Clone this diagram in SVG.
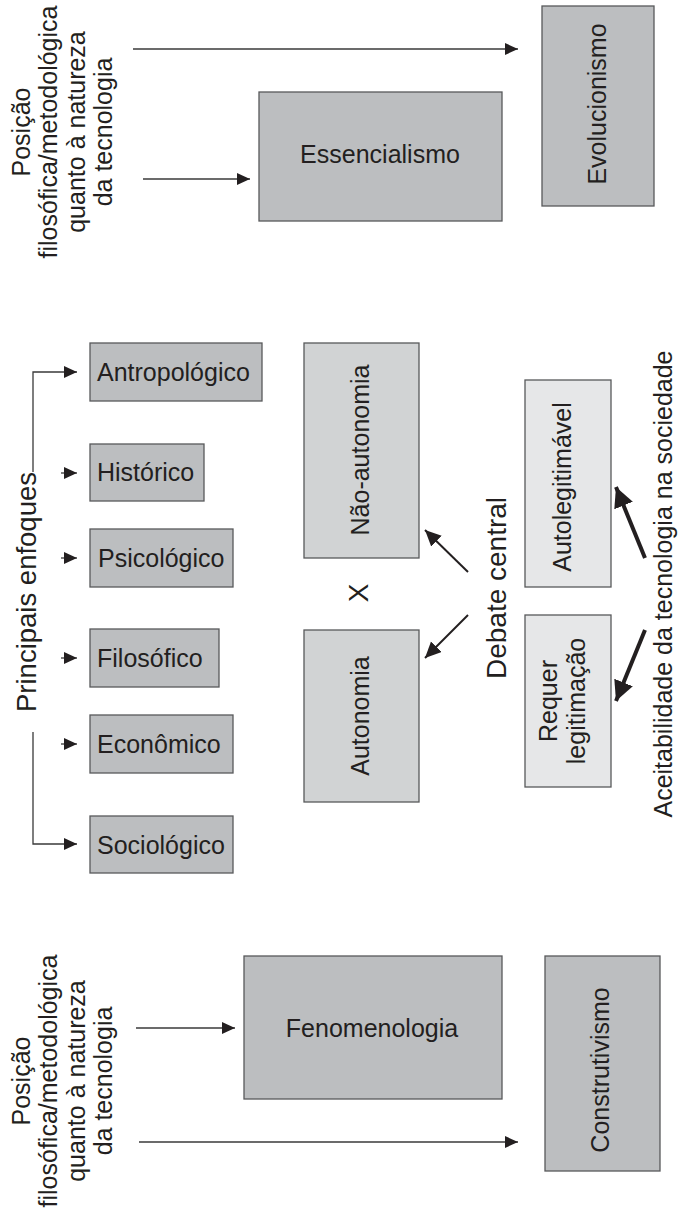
<svg xmlns="http://www.w3.org/2000/svg" width="678" height="1213" viewBox="0 0 678 1213">
<defs>
<style>
text{font-family:"Liberation Sans",Arial,sans-serif;fill:#231f20;font-size:25px}
.mid{text-anchor:middle}
.dark{fill:#bcbec0;stroke:#58595b;stroke-width:1.3}
.med{fill:#d1d3d4;stroke:#58595b;stroke-width:1.3}
.light{fill:#e6e7e8;stroke:#58595b;stroke-width:1.3}
.ln{fill:none;stroke:#3a3a3a;stroke-width:1.3}
.ln2{fill:none;stroke:#231f20;stroke-width:2}
.ln4{fill:none;stroke:#231f20;stroke-width:4}
</style>
<marker id="ah" markerUnits="userSpaceOnUse" markerWidth="14" markerHeight="14" refX="13" refY="6" orient="auto"><path d="M0,0 L13,6 L0,12 z" fill="#231f20"/></marker>
<marker id="ah2" markerUnits="userSpaceOnUse" markerWidth="18" markerHeight="18" refX="16" refY="7.5" orient="auto"><path d="M0,0 L16,7.5 L0,15 z" fill="#231f20"/></marker>
<marker id="ah4" markerUnits="userSpaceOnUse" markerWidth="24" markerHeight="24" refX="20" refY="10" orient="auto"><path d="M0,0 L20,10 L0,20 z" fill="#231f20"/></marker>
</defs>

<g id="connectors">
<line class="ln" x1="133" y1="49" x2="518" y2="49" marker-end="url(#ah)"/>
<line class="ln" x1="143" y1="179" x2="250" y2="179" marker-end="url(#ah)"/>
<line class="ln" x1="136" y1="1028" x2="235" y2="1028" marker-end="url(#ah)"/>
<line class="ln" x1="139" y1="1142" x2="518" y2="1142" marker-end="url(#ah)"/>
<path class="ln" d="M33,472 V372 H77" marker-end="url(#ah)"/>
<path class="ln" d="M33,732 V844 H77" marker-end="url(#ah)"/>
<line class="ln" x1="61" y1="473" x2="77" y2="473" marker-end="url(#ah)"/>
<line class="ln" x1="61" y1="558" x2="77" y2="558" marker-end="url(#ah)"/>
<line class="ln" x1="61" y1="658" x2="77" y2="658" marker-end="url(#ah)"/>
<line class="ln" x1="61" y1="744" x2="77" y2="744" marker-end="url(#ah)"/>
<line class="ln2" x1="468" y1="572" x2="425" y2="530" marker-end="url(#ah2)"/>
<line class="ln2" x1="468" y1="615" x2="425" y2="658" marker-end="url(#ah2)"/>
<line class="ln4" x1="645" y1="558" x2="616" y2="487" marker-end="url(#ah4)"/>
<line class="ln4" x1="645" y1="630" x2="616" y2="701" marker-end="url(#ah4)"/>
</g>

<g id="label-posicao-top">
<text class="mid" transform="translate(30,132) rotate(-90)">Posição</text>
<text class="mid" transform="translate(57,132) rotate(-90)">filosófica/metodológica</text>
<text class="mid" transform="translate(85,132) rotate(-90)">quanto à natureza</text>
<text class="mid" transform="translate(112,132) rotate(-90)">da tecnologia</text>
</g>
<g id="essencialismo"><rect class="dark" x="259" y="92" width="243" height="129"/><text class="mid" x="380" y="163">Essencialismo</text></g>
<g id="evolucionismo"><rect class="dark" x="542" y="6" width="112" height="200"/><text class="mid" transform="translate(606,104) rotate(-90)">Evolucionismo</text></g>

<g id="principais-enfoques"><text class="mid" style="font-size:27.5px" transform="translate(36,592) rotate(-90)">Principais enfoques</text></g>
<g id="antropologico"><rect class="dark" x="90" y="343" width="172" height="58"/><text x="97" y="381">Antropológico</text></g>
<g id="historico"><rect class="dark" x="90" y="444" width="114" height="57"/><text x="97" y="481">Histórico</text></g>
<g id="psicologico"><rect class="dark" x="90" y="529" width="143" height="58"/><text x="98" y="567">Psicológico</text></g>
<g id="filosofico"><rect class="dark" x="90" y="629" width="129" height="58"/><text x="97" y="667">Filosófico</text></g>
<g id="economico"><rect class="dark" x="90" y="715" width="143" height="58"/><text x="97" y="753">Econômico</text></g>
<g id="sociologico"><rect class="dark" x="90" y="816" width="143" height="57"/><text x="97" y="854">Sociológico</text></g>

<g id="nao-autonomia"><rect class="med" x="304" y="343" width="115" height="215"/><text class="mid" transform="translate(369,450) rotate(-90)">Não-autonomia</text></g>
<g id="x-label"><text class="mid" style="font-size:28px" transform="translate(368,593) rotate(-90)">X</text></g>
<g id="autonomia"><rect class="med" x="304" y="630" width="115" height="172"/><text class="mid" transform="translate(369,716) rotate(-90)">Autonomia</text></g>
<g id="debate-central"><text class="mid" style="font-size:28px" transform="translate(506,588) rotate(-90)">Debate central</text></g>
<g id="autolegitimavel"><rect class="light" x="525" y="380" width="86" height="207"/><text class="mid" transform="translate(571,487) rotate(-90)">Autolegitimável</text></g>
<g id="requer-legitimacao"><rect class="light" x="525" y="615" width="86" height="172"/><text class="mid" transform="translate(557,701) rotate(-90)">Requer</text><text class="mid" transform="translate(585,701) rotate(-90)">legitimação</text></g>
<g id="aceitabilidade"><text class="mid" transform="translate(672,584) rotate(-90)">Aceitabilidade da tecnologia na sociedade</text></g>

<g id="label-posicao-bottom">
<text class="mid" transform="translate(30,1081) rotate(-90)">Posição</text>
<text class="mid" transform="translate(57,1081) rotate(-90)">filosófica/metodológica</text>
<text class="mid" transform="translate(85,1081) rotate(-90)">quanto à natureza</text>
<text class="mid" transform="translate(112,1081) rotate(-90)">da tecnologia</text>
</g>
<g id="fenomenologia"><rect class="dark" x="244" y="956" width="258" height="143"/><text class="mid" x="372" y="1037">Fenomenologia</text></g>
<g id="construtivismo"><rect class="dark" x="545" y="956" width="115" height="215"/><text class="mid" transform="translate(609,1070) rotate(-90)">Construtivismo</text></g>
</svg>
